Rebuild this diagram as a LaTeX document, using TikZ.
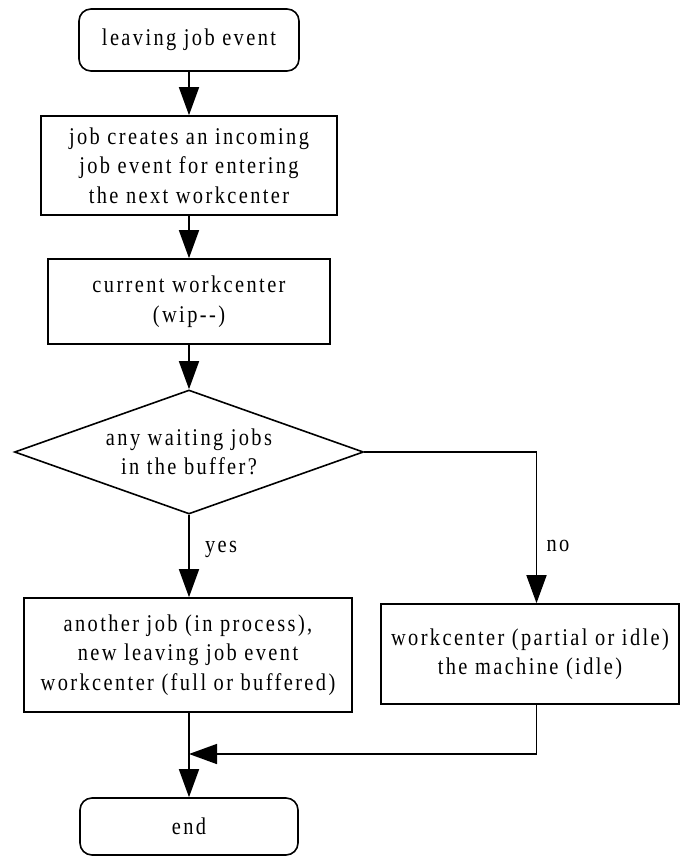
\documentclass[tikz,border=0pt]{standalone}
\usepackage{fontspec}
\setmainfont{Liberation Serif}[FakeStretch=0.85,LetterSpace=10]
\usetikzlibrary{shapes.geometric,arrows.meta}
\begin{document}
\begin{tikzpicture}[x=1pt,y=-1pt,
  every node/.style={font=\fontsize{24}{29.5}\selectfont, align=center, inner sep=0pt},
  box/.style={draw, line width=1.6pt, rectangle},
  terminal/.style={box, rounded corners=12pt},
  decision/.style={draw, line width=1.6pt, diamond, aspect=2.8,
                   minimum width=349pt, minimum height=124pt},
  arr/.style={line width=1.6pt, -{Triangle[width=20pt,length=28pt]}},
  lbl/.style={anchor=center}]
\useasboundingbox (0,0) rectangle (681,857);

\node[terminal, minimum width=220pt, minimum height=62pt] (start) at (189,40) {leaving job event};
\node[box, minimum width=296pt, minimum height=99pt] (create) at (189,165.5)
  {job creates an incoming\\job event for entering\\the next workcenter};
\node[box, minimum width=282pt, minimum height=85pt] (current) at (189,301.5)
  {current workcenter\\(wip{-}{-})};
\node[decision] (dec) at (189,452) {any waiting jobs\\in the buffer?};
\node[box, minimum width=328pt, minimum height=114pt] (busy) at (188,655)
  {another job (in process),\\new leaving job event\\workcenter (full or buffered)};
\node[box, minimum width=298pt, minimum height=100pt] (idle) at (530,654)
  {workcenter (partial or idle)\\the machine (idle)};
\node[terminal, minimum width=218pt, minimum height=57pt] (end) at (189,826.5) {end};

% branch labels
\node[lbl] (yeslbl) at (221,549) {yes};
\node[lbl] (nolbl) at (558,546) {no};

\coordinate (nx) at (536.5,0);
\coordinate (join) at (189,754);

\draw[arr] (start) -- (create);
\draw[arr] (create) -- (current);
\draw[arr] (current) -- (dec);
\draw[arr] (dec.south) -- (busy.north -| dec.south);
\draw[arr] (dec.east) -| (idle.north -| nx);
\draw[arr] (busy.south -| dec.south) -- (end.north -| dec.south);
\draw[arr] (idle.south -| nx) |- (join);
\end{tikzpicture}
\end{document}
